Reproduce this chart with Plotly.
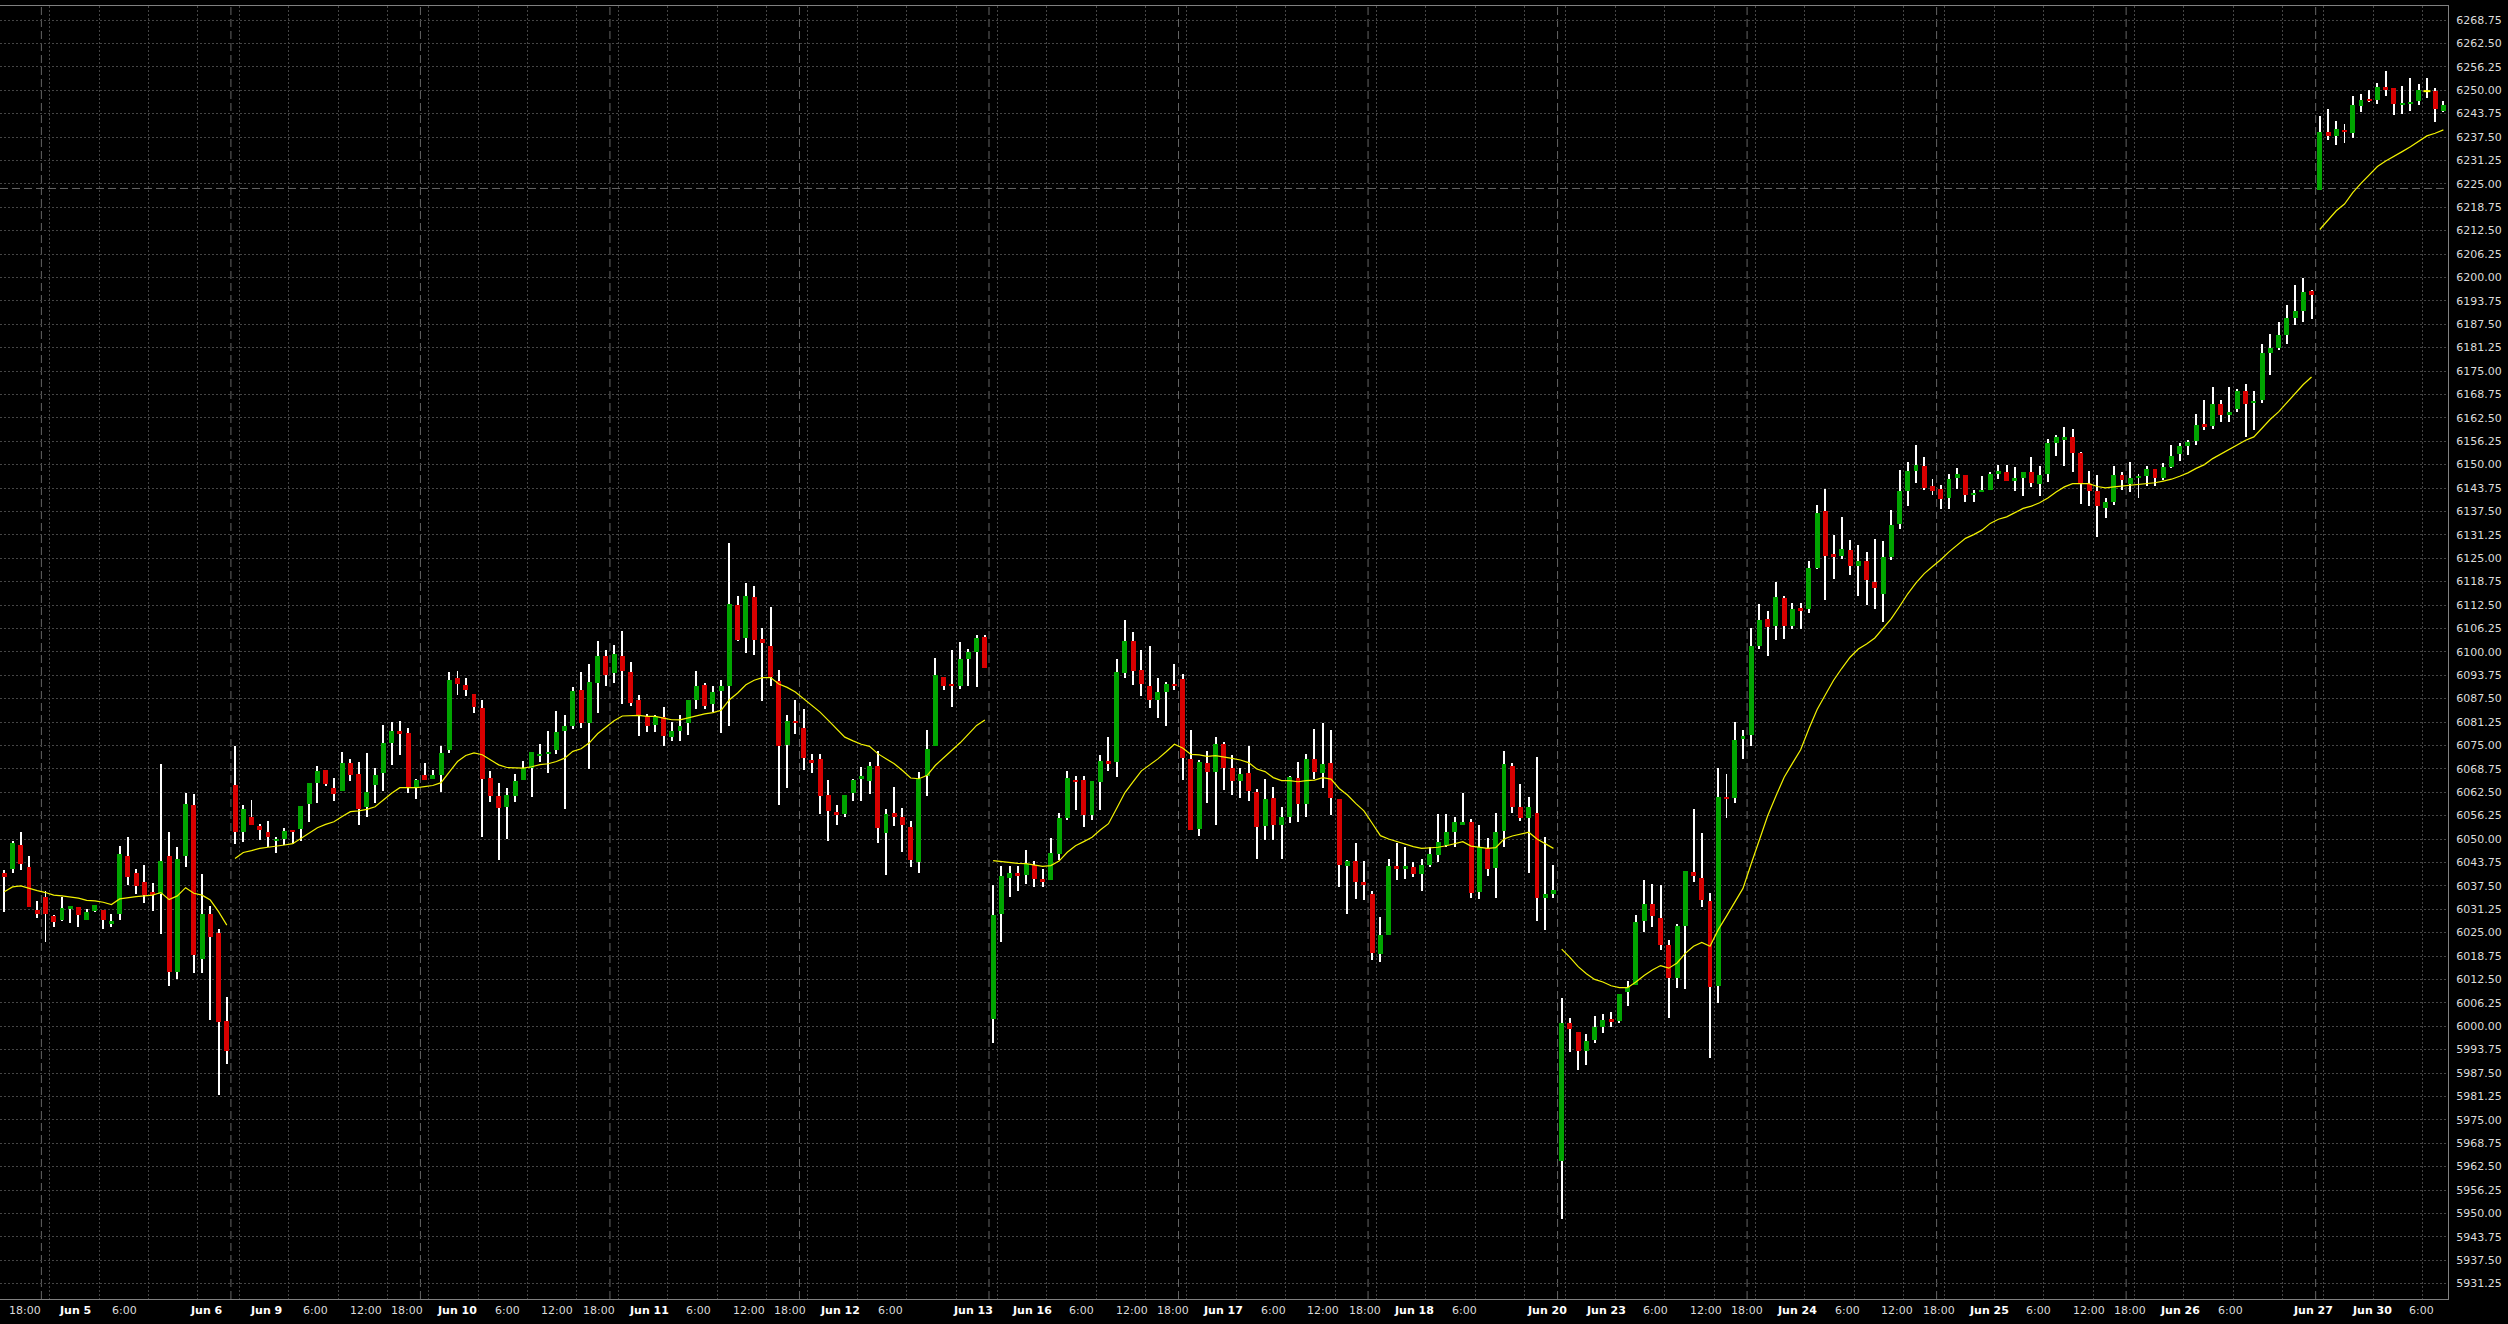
import plotly.graph_objects as go

# ---------------------------------------------------------------------------
# hourly candles, bar 0 = first bar on screen (Jun 4 afternoon)
# ---------------------------------------------------------------------------

open_ = [
    6041.0, 6042.0, 6048.5, 6042.5, 6031.0, 6034.5, 6029.5, 6028.5, 6031.5, 6031.75,
    6028.5, 6030.75, 6031.0, 6027.5, 6030.0, 6045.5, 6041.0, 6038.5, 6035.75, 6035.25,
    6045.5, 6014.5, 6045.5, 6059.0, 6018.0, 6030.0, 6025.0, 6001.5, 6064.5, 6052.0,
    6056.0, 6053.5, 6051.75, 6049.5, 6050.0, 6052.5, 6052.75, 6059.25, 6065.0, 6068.5,
    6063.75, 6062.75, 6070.25, 6067.25, 6058.5, 6064.5, 6067.5, 6075.75, 6078.75, 6078.25,
    6063.75, 6067.0, 6066.0, 6067.0, 6073.75, 6093.0, 6091.25, 6088.75, 6085.0, 6066.25,
    6061.5, 6058.5, 6061.5, 6065.75, 6069.0, 6072.25, 6072.75, 6073.75, 6078.75, 6080.25,
    6089.75, 6081.0, 6091.75, 6098.75, 6094.25, 6099.0, 6094.5, 6087.25, 6082.75, 6080.5,
    6082.5, 6077.25, 6078.75, 6081.0, 6087.0, 6091.25, 6086.0, 6089.5, 6090.75, 6112.5,
    6103.75, 6114.75, 6103.5, 6101.5, 6092.25, 6075.0, 6081.5, 6079.75, 6071.0, 6071.25,
    6061.75, 6057.25, 6056.75, 6062.25, 6066.25, 6065.5, 6069.5, 6051.5, 6057.0, 6056.0,
    6053.25, 6043.75, 6066.75, 6074.75, 6093.25, 6091.5, 6091.0, 6098.0, 6100.0, 6104.0,
    6002.0, 6030.0, 6039.5, 6041.0, 6040.5, 6043.0, 6039.25, 6039.0, 6046.0, 6055.5,
    6065.75, 6065.75, 6056.5, 6065.25, 6070.75, 6070.5, 6094.25, 6103.0, 6095.25, 6091.0,
    6087.0, 6089.25, 6091.5, 6092.75, 6071.5, 6052.75, 6070.25, 6068.0, 6075.25, 6069.0,
    6065.5, 6067.5, 6062.5, 6053.5, 6061.0, 6053.75, 6055.75, 6066.25, 6059.25, 6071.5,
    6067.5, 6070.25, 6060.75, 6042.75, 6044.0, 6038.5, 6035.25, 6019.25, 6024.25, 6042.75,
    6042.0, 6042.5, 6040.75, 6043.0, 6045.75, 6048.5, 6051.75, 6054.0, 6054.5, 6035.75,
    6047.5, 6042.25, 6052.25, 6069.5, 6058.5, 6055.5, 6057.0, 6034.25, 6035.25, 5964.0,
    6000.75, 5998.5, 5993.5, 5996.25, 5999.75, 6002.0, 6001.5, 6009.25, 6011.0, 6028.0,
    6032.75, 6029.0, 6021.75, 6012.75, 6026.75, 6041.25, 6039.5, 6033.5, 6010.75, 6061.25,
    6061.0, 6076.75, 6077.75, 6101.5, 6108.75, 6107.0, 6114.5, 6107.0, 6111.75, 6111.5,
    6122.5, 6137.5, 6126.0, 6125.5, 6127.25, 6123.0, 6124.25, 6118.75, 6115.5, 6125.25,
    6134.25, 6143.0, 6148.25, 6149.75, 6144.25, 6143.5, 6141.0, 6146.5, 6147.25, 6142.0,
    6142.75, 6143.25, 6147.75, 6148.0, 6145.5, 6146.5, 6148.0, 6144.75, 6147.5, 6155.75,
    6156.75, 6157.25, 6153.0, 6144.75, 6143.0, 6138.5, 6140.0, 6147.25, 6144.75, 6146.5,
    6147.0, 6148.75, 6146.5, 6149.25, 6152.75, 6155.0, 6156.25, 6160.75, 6160.25, 6166.25,
    6163.25, 6164.75, 6169.75, 6166.5, 6167.25, 6179.75, 6181.25, 6184.75, 6189.25, 6191.0,
    6196.25, 6223.25, 6238.75, 6237.75, 6239.5, 6238.5, 6245.75, 6247.75, 6247.5, 6250.75,
    6250.5, 6246.25, 6246.5, 6247.0, 6249.75, 6249.75, 6244.5,
]

high_ = [
    6041.75, 6049.5, 6052.0, 6045.5, 6033.5, 6036.0, 6029.75, 6034.5, 6032.0, 6031.75,
    6031.25, 6032.5, 6031.0, 6030.0, 6048.25, 6050.5, 6042.0, 6043.0, 6038.25, 6070.0,
    6051.75, 6048.0, 6062.25, 6062.0, 6040.75, 6032.0, 6026.0, 6007.75, 6074.75, 6059.0,
    6060.5, 6054.0, 6054.75, 6050.5, 6053.0, 6052.5, 6058.75, 6065.0, 6069.5, 6068.5,
    6066.25, 6073.25, 6071.5, 6070.5, 6073.0, 6069.0, 6080.5, 6081.25, 6081.5, 6079.75,
    6066.0, 6070.25, 6068.5, 6074.75, 6094.5, 6095.0, 6093.0, 6088.75, 6087.0, 6068.25,
    6065.0, 6063.5, 6067.25, 6070.75, 6073.25, 6075.5, 6078.75, 6084.25, 6083.0, 6090.5,
    6094.5, 6096.75, 6103.0, 6100.5, 6101.75, 6105.5, 6097.25, 6088.5, 6083.5, 6083.0,
    6085.25, 6081.25, 6083.0, 6087.25, 6094.75, 6091.75, 6090.75, 6092.5, 6129.0, 6115.0,
    6118.5, 6117.5, 6106.25, 6112.0, 6095.25, 6083.25, 6087.0, 6084.75, 6072.75, 6072.75,
    6065.75, 6059.0, 6061.75, 6066.0, 6069.25, 6070.5, 6073.5, 6058.0, 6064.0, 6058.25,
    6054.75, 6068.0, 6079.0, 6098.25, 6093.25, 6100.5, 6102.5, 6100.75, 6104.5, 6104.5,
    6037.75, 6042.75, 6042.75, 6042.75, 6047.0, 6044.0, 6042.0, 6050.25, 6057.0, 6068.25,
    6066.75, 6066.75, 6065.5, 6072.5, 6077.25, 6098.0, 6108.5, 6105.25, 6100.5, 6101.5,
    6093.0, 6092.0, 6096.75, 6094.0, 6079.25, 6071.0, 6073.5, 6077.25, 6076.0, 6072.5,
    6069.0, 6074.75, 6063.25, 6066.0, 6064.0, 6058.5, 6066.75, 6070.5, 6072.75, 6079.5,
    6081.0, 6079.25, 6060.75, 6044.5, 6049.0, 6044.25, 6036.0, 6029.25, 6044.75, 6049.0,
    6048.0, 6043.75, 6044.75, 6047.75, 6056.75, 6056.75, 6056.0, 6062.25, 6055.25, 6053.75,
    6050.25, 6057.0, 6073.5, 6070.25, 6064.75, 6061.25, 6072.0, 6050.5, 6043.0, 6007.5,
    6002.25, 5998.5, 5998.0, 6002.75, 6003.25, 6003.75, 6008.5, 6012.0, 6029.75, 6039.0,
    6038.0, 6037.75, 6023.0, 6027.25, 6041.5, 6058.0, 6051.5, 6035.5, 6069.0, 6067.25,
    6081.25, 6079.0, 6106.25, 6112.75, 6111.0, 6118.75, 6115.0, 6113.0, 6113.0, 6124.25,
    6139.25, 6143.5, 6131.25, 6136.0, 6129.75, 6128.5, 6126.75, 6130.25, 6129.5, 6138.0,
    6148.5, 6150.75, 6155.25, 6152.0, 6146.25, 6144.5, 6147.5, 6149.0, 6147.25, 6143.25,
    6147.0, 6148.0, 6150.0, 6150.0, 6149.25, 6148.0, 6152.0, 6149.5, 6156.75, 6158.0,
    6160.0, 6159.5, 6153.5, 6148.25, 6147.25, 6141.0, 6149.75, 6148.0, 6150.75, 6147.5,
    6149.75, 6148.75, 6150.5, 6155.25, 6155.75, 6156.5, 6163.5, 6167.25, 6170.75, 6167.25,
    6170.75, 6170.25, 6171.5, 6169.75, 6182.25, 6185.0, 6188.0, 6192.5, 6198.0, 6199.75,
    6196.75, 6243.0, 6245.0, 6241.75, 6241.0, 6248.5, 6249.0, 6250.0, 6252.0, 6255.0,
    6250.5, 6251.0, 6253.25, 6251.75, 6253.25, 6250.5, 6247.0,
]

low_ = [
    6030.5, 6041.0, 6041.75, 6031.75, 6029.0, 6022.5, 6026.5, 6028.0, 6027.5, 6026.5,
    6028.5, 6030.5, 6026.0, 6026.5, 6028.5, 6037.75, 6035.25, 6033.0, 6030.75, 6024.75,
    6010.75, 6012.5, 6042.5, 6014.25, 6014.25, 6001.75, 5981.5, 5990.0, 6048.75, 6049.25,
    6053.75, 6049.75, 6047.75, 6046.25, 6048.5, 6048.75, 6049.5, 6054.5, 6059.5, 6064.25,
    6060.25, 6062.75, 6065.5, 6053.75, 6056.0, 6059.5, 6062.75, 6069.75, 6072.5, 6062.25,
    6060.75, 6065.75, 6066.0, 6062.5, 6073.0, 6088.5, 6088.25, 6083.75, 6050.5, 6060.0,
    6044.5, 6050.0, 6060.0, 6065.75, 6061.25, 6070.5, 6067.75, 6072.75, 6058.0, 6079.5,
    6079.75, 6068.75, 6083.75, 6090.75, 6091.75, 6086.0, 6085.5, 6077.5, 6078.5, 6078.5,
    6074.75, 6076.25, 6076.25, 6077.75, 6084.75, 6084.75, 6084.0, 6078.25, 6080.25, 6103.0,
    6099.75, 6099.25, 6086.75, 6091.0, 6059.0, 6063.75, 6078.0, 6068.5, 6067.5, 6056.75,
    6049.5, 6053.75, 6056.0, 6060.25, 6060.25, 6062.0, 6049.0, 6040.5, 6053.5, 6046.5,
    6042.5, 6041.0, 6061.5, 6074.75, 6089.75, 6085.25, 6090.0, 6090.75, 6090.5, 6095.75,
    5995.5, 6022.5, 6034.5, 6036.0, 6038.0, 6037.25, 6037.25, 6039.0, 6044.5, 6055.0,
    6057.75, 6053.25, 6055.0, 6057.75, 6068.25, 6066.5, 6093.0, 6091.25, 6088.25, 6085.0,
    6082.25, 6080.25, 6089.75, 6065.75, 6052.5, 6050.75, 6059.5, 6053.75, 6063.0, 6061.75,
    6061.0, 6060.25, 6044.75, 6049.75, 6049.75, 6044.75, 6054.25, 6054.5, 6055.75, 6066.0,
    6063.75, 6056.5, 6037.25, 6030.0, 6034.0, 6033.75, 6017.75, 6017.25, 6024.25, 6039.0,
    6039.25, 6039.75, 6036.0, 6042.5, 6043.75, 6048.0, 6047.75, 6054.0, 6034.25, 6034.0,
    6040.25, 6034.25, 6047.75, 6057.0, 6054.75, 6041.0, 6028.0, 6025.75, 6034.25, 5948.5,
    5993.0, 5988.25, 5989.75, 5995.5, 5998.25, 5999.75, 6000.75, 6005.5, 6011.0, 6025.25,
    6026.5, 6020.25, 6002.25, 6010.25, 6010.0, 6038.5, 6031.75, 5991.5, 6006.25, 6055.5,
    6059.5, 6071.5, 6074.75, 6100.75, 6098.75, 6103.25, 6103.5, 6106.0, 6106.0, 6110.5,
    6122.0, 6113.75, 6119.5, 6124.75, 6120.5, 6115.0, 6112.5, 6111.5, 6108.0, 6124.5,
    6132.75, 6139.0, 6145.0, 6143.25, 6142.0, 6138.25, 6138.25, 6143.5, 6140.0, 6140.0,
    6142.75, 6143.25, 6146.25, 6145.5, 6143.0, 6141.5, 6144.0, 6141.5, 6145.25, 6152.25,
    6149.5, 6148.0, 6139.5, 6139.0, 6130.75, 6135.75, 6139.25, 6143.25, 6142.75, 6141.0,
    6144.25, 6144.25, 6146.0, 6149.0, 6151.0, 6152.5, 6155.25, 6159.25, 6159.5, 6161.5,
    6161.25, 6164.0, 6157.5, 6159.25, 6166.5, 6174.0, 6180.5, 6182.25, 6187.25, 6188.0,
    6189.0, 6223.25, 6236.75, 6235.25, 6236.0, 6237.25, 6244.25, 6246.75, 6246.25, 6248.5,
    6243.25, 6243.75, 6244.5, 6246.0, 6248.0, 6241.5, 6244.25,
]

close_ = [
    6039.75, 6049.0, 6043.25, 6031.75, 6030.0, 6030.0, 6027.75, 6031.5, 6032.0, 6029.75,
    6030.5, 6032.25, 6028.5, 6028.0, 6046.0, 6039.75, 6037.5, 6035.0, 6035.25, 6044.0,
    6014.5, 6044.75, 6059.25, 6019.0, 6030.0, 6023.75, 6001.0, 5993.5, 6052.0, 6058.0,
    6053.75, 6052.5, 6050.5, 6050.0, 6052.25, 6052.0, 6058.75, 6065.0, 6068.25, 6064.75,
    6062.0, 6070.25, 6067.0, 6058.0, 6062.5, 6067.0, 6075.75, 6078.75, 6078.25, 6063.5,
    6065.75, 6065.75, 6067.0, 6073.0, 6092.5, 6091.5, 6089.75, 6085.25, 6066.0, 6061.5,
    6058.25, 6061.75, 6065.5, 6069.0, 6073.25, 6072.75, 6073.25, 6078.5, 6080.25, 6089.5,
    6081.0, 6092.0, 6099.0, 6093.75, 6099.5, 6095.0, 6086.25, 6083.25, 6080.25, 6082.5,
    6077.5, 6078.75, 6080.25, 6087.25, 6091.0, 6085.5, 6089.25, 6091.0, 6112.75, 6103.25,
    6115.0, 6103.25, 6102.25, 6093.25, 6074.75, 6081.5, 6081.0, 6071.75, 6070.5, 6061.5,
    6057.5, 6056.5, 6061.75, 6065.75, 6066.75, 6069.5, 6053.0, 6056.75, 6055.75, 6053.75,
    6044.5, 6066.0, 6074.0, 6093.75, 6091.0, 6091.0, 6098.0, 6100.0, 6103.75, 6095.75,
    6029.75, 6040.0, 6041.0, 6040.0, 6043.25, 6039.25, 6038.75, 6046.25, 6055.5, 6066.25,
    6065.25, 6056.5, 6065.5, 6070.75, 6070.25, 6094.5, 6103.0, 6095.0, 6091.5, 6087.0,
    6089.25, 6091.5, 6091.0, 6071.75, 6052.5, 6070.5, 6068.0, 6075.5, 6069.0, 6065.5,
    6067.25, 6062.75, 6053.25, 6060.75, 6053.75, 6056.0, 6066.5, 6059.25, 6071.5, 6068.0,
    6070.0, 6061.0, 6043.0, 6044.0, 6038.5, 6037.75, 6019.5, 6024.25, 6042.75, 6042.25,
    6042.75, 6040.75, 6043.0, 6046.0, 6049.25, 6051.75, 6054.5, 6054.5, 6035.5, 6048.0,
    6042.0, 6052.0, 6070.0, 6058.5, 6055.5, 6058.5, 6034.25, 6035.25, 6036.25, 6000.75,
    5999.25, 5993.5, 5996.0, 5999.75, 6001.75, 6001.25, 6008.5, 6010.5, 6027.75, 6032.75,
    6029.5, 6021.75, 6012.75, 6026.75, 6041.5, 6040.0, 6033.75, 6010.5, 6061.25, 6060.75,
    6076.5, 6077.5, 6101.5, 6108.5, 6106.75, 6114.75, 6107.0, 6111.5, 6111.0, 6122.5,
    6137.0, 6125.5, 6125.5, 6127.5, 6123.0, 6124.25, 6119.25, 6117.0, 6125.25, 6133.75,
    6143.0, 6148.25, 6150.0, 6143.75, 6143.0, 6140.75, 6146.25, 6147.5, 6142.0, 6142.5,
    6143.25, 6147.5, 6148.25, 6145.5, 6146.5, 6148.0, 6145.0, 6147.25, 6155.75, 6157.25,
    6157.25, 6153.0, 6144.75, 6143.0, 6139.0, 6140.0, 6147.25, 6146.0, 6146.5, 6147.0,
    6148.75, 6146.5, 6149.25, 6152.25, 6155.0, 6156.0, 6160.5, 6160.0, 6166.25, 6163.25,
    6164.0, 6169.75, 6166.25, 6167.0, 6179.75, 6181.25, 6184.5, 6189.25, 6191.0, 6196.0,
    6195.25, 6238.75, 6237.75, 6239.75, 6238.75, 6246.0, 6247.5, 6247.25, 6250.75, 6250.25,
    6246.25, 6246.5, 6246.75, 6250.0, 6249.75, 6245.0, 6246.0,
]

# yellow moving average as drawn on the chart (restarts after each data gap)
ma = [
    6035.9, 6037.2, 6037.5, 6036.8, 6036.2, 6035.7, 6035.0, 6034.8, 6034.5, 6034.2,
    6033.6, 6033.5, 6033.1, 6032.5, 6034.0, 6034.4, 6034.6, 6034.8, 6035.0, 6035.7,
    6033.8, 6034.8, 6037.0, 6035.5, 6035.0, 6033.7, 6030.6, 6027.0, 6044.8, 6046.4,
    6046.9, 6047.5, 6047.8, 6048.0, 6048.4, 6048.75, 6050.2, 6051.5, 6053.0, 6053.9,
    6054.6, 6056.0, 6057.3, 6057.5, 6057.9, 6058.6, 6060.4, 6062.2, 6063.7, 6063.7,
    6063.7, 6064.0, 6064.3, 6065.05, 6068.0, 6070.7, 6072.3, 6073.0, 6072.5, 6071.2,
    6069.8, 6069.1, 6068.95, 6068.95, 6069.3, 6069.85, 6070.1, 6070.7, 6071.6, 6073.4,
    6074.1, 6075.7, 6078.1, 6079.9, 6081.6, 6082.85, 6083.0, 6083.0, 6082.75, 6082.75,
    6082.3, 6081.85, 6081.8, 6082.4, 6083.0, 6083.4, 6083.75, 6084.4, 6087.2, 6089.0,
    6091.2, 6092.4, 6093.1, 6093.1, 6091.4, 6090.5, 6089.25, 6087.5, 6085.9, 6083.9,
    6081.7, 6079.5, 6077.2, 6076.2, 6075.3, 6074.75, 6072.8, 6071.45, 6070.1, 6068.3,
    6066.3, 6066.1, 6067.0, 6069.7, 6071.8, 6073.7, 6075.7, 6078.1, 6080.35, 6081.8,
    6044.2, 6043.95, 6043.8, 6043.5, 6043.4, 6043.05, 6042.7, 6042.9, 6044.1, 6046.45,
    6048.2, 6049.3, 6050.45, 6052.4, 6054.1, 6058.2, 6062.4, 6065.3, 6068.2, 6069.8,
    6071.4, 6073.3, 6075.3, 6074.3, 6072.6, 6072.45, 6072.05, 6072.25, 6072.0, 6071.55,
    6071.1, 6070.4, 6068.7, 6068.0, 6066.4, 6065.6, 6065.6, 6065.3, 6065.6, 6065.75,
    6066.4, 6066.0, 6063.5, 6061.75, 6059.5, 6057.5, 6054.2, 6050.9, 6050.0, 6049.3,
    6048.6, 6047.95, 6047.5, 6047.6, 6047.8, 6048.2, 6048.7, 6049.3, 6048.1, 6047.8,
    6047.5, 6047.7, 6050.0, 6050.8, 6051.2, 6051.8, 6050.0, 6048.85, 6047.5, 6020.6,
    6018.4, 6015.9, 6014.0, 6012.5, 6011.8, 6010.8, 6010.3, 6010.3, 6011.8, 6013.55,
    6015.0, 6016.2, 6015.5, 6016.9, 6019.45, 6021.35, 6022.4, 6021.35, 6025.8, 6029.4,
    6033.1, 6036.8, 6043.4, 6050.0, 6056.2, 6061.5, 6066.5, 6070.2, 6073.85, 6079.45,
    6084.6, 6088.55, 6092.4, 6095.6, 6098.55, 6100.75, 6102.1, 6103.7, 6106.2, 6108.85,
    6112.1, 6115.5, 6118.4, 6120.9, 6122.8, 6124.6, 6126.7, 6128.4, 6130.3, 6131.3,
    6132.5, 6134.3, 6135.4, 6136.05, 6137.2, 6138.3, 6138.9, 6139.8, 6141.1, 6142.7,
    6144.05, 6144.9, 6144.9, 6144.9, 6144.15, 6143.8, 6144.05, 6144.25, 6144.5, 6144.8,
    6145.0, 6145.15, 6145.6, 6146.1, 6146.9, 6147.8, 6149.0, 6150.0, 6151.6, 6152.8,
    6154.0, 6155.4, 6156.5, 6157.4, 6159.8, 6162.1, 6164.1, 6166.6, 6169.0, 6171.4,
    6173.4, 6212.8, 6215.3, 6217.8, 6219.6, 6222.65, 6225.1, 6227.35, 6229.6, 6231.1,
    6232.25, 6233.6, 6234.9, 6236.25, 6237.8, 6238.5, 6239.4,
]

# first bar of each block of data (the indicator line breaks there)
segment_starts = [0, 28, 120, 189, 281]

# session separators (between the 16:00 and 18:00 bars)
day_breaks = [4.5, 27.5, 50.5, 73.5, 96.5, 119.5, 142.5, 165.5, 188.5,
              211.5, 234.5, 257.5, 280.5]

# time axis grid positions and their labels ("" = grid line without a label)
tick_pos = [5.5, 11.5, 17.5, 23.5, 28.5, 34.5, 40.5, 46.5, 51.5, 57.5,
            63.5, 69.5, 74.5, 80.5, 86.5, 92.5, 97.5, 103.5, 109.5, 115.5,
            120.5, 126.5, 132.5, 138.5, 143.5, 149.5, 155.5, 161.5, 166.5, 172.5,
            178.5, 184.5, 189.5, 195.5, 201.5, 207.5, 212.5, 218.5, 224.5, 230.5,
            235.5, 241.5, 247.5, 253.5, 258.5, 264.5, 270.5, 276.5, 281.5, 287.5,
            293.5]
tick_text = ["18:00", "Jun 5", "6:00", "", "Jun 6", "Jun 9", "6:00", "12:00", "18:00", "Jun 10",
             "6:00", "12:00", "18:00", "Jun 11", "6:00", "12:00", "18:00", "Jun 12", "6:00", "",
             "Jun 13", "Jun 16", "6:00", "12:00", "18:00", "Jun 17", "6:00", "12:00", "18:00", "Jun 18",
             "6:00", "", "Jun 20", "Jun 23", "6:00", "12:00", "18:00", "Jun 24", "6:00", "12:00",
             "18:00", "Jun 25", "6:00", "12:00", "18:00", "Jun 26", "6:00", "", "Jun 27", "Jun 30",
             "6:00"]

price_line = 6223.75

###################################################################################################

UP = '#00a400'
DOWN = '#d80000'
DOJI = '#ffff00'
GRID = '#454545'
SEP = '#646464'
FONT = 'DejaVu Sans'

n = len(close_)
idx = list(range(n))

body_base = [min(o, c) for o, c in zip(open_, close_)]
body_size = [abs(c - o) for o, c in zip(open_, close_)]
body_color = [UP if c > o else DOWN if c < o else DOJI for o, c in zip(open_, close_)]
doji = [i for i in idx if open_[i] == close_[i]]

ma_x, ma_y = [], []
bounds = segment_starts + [n]
for a, b in zip(bounds[:-1], bounds[1:]):
    ma_x += idx[a:b] + [None]
    ma_y += ma[a:b] + [None]

fig = go.Figure()
# wicks are thin bars so that the bodies (same layer, drawn later) cover them
fig.add_trace(go.Bar(x=idx, y=[h - l for h, l in zip(high_, low_)], base=low_, width=0.12,
                     marker=dict(color='white', line=dict(width=0))))
fig.add_trace(go.Bar(x=idx, y=body_size, base=body_base, width=0.6,
                     marker=dict(color=body_color, line=dict(width=0))))
fig.add_trace(go.Scatter(x=doji, y=[close_[i] for i in doji], mode='markers',
                         marker=dict(symbol='line-ew', size=5,
                                     line=dict(color=DOJI, width=2))))
fig.add_trace(go.Scatter(x=ma_x, y=ma_y, mode='lines',
                         line=dict(color='#f2f200', width=1.2)))

for x in day_breaks:
    fig.add_vline(x=x, line=dict(color=SEP, width=1, dash='8px,4px'), layer='below')
fig.add_hline(y=price_line, line=dict(color=SEP, width=1, dash='8px,4px'), layer='below')

# labels sit a little left of their grid line (more so right after a data gap)
for t, txt in zip(tick_pos, tick_text):
    if not txt:
        continue
    pos = t * 1.01 - 3.09
    if int(t - 0.5) in segment_starts:
        pos -= 1.1
    is_date = txt.startswith('Jun')
    fig.add_annotation(x=pos, y=0, xref='x', yref='paper', yanchor='top', yshift=-3,
                       showarrow=False,
                       text='<b>%s</b>' % txt if is_date else txt,
                       font=dict(family=FONT, size=11,
                                 color='#ffffff' if is_date else '#dcdcdc'))

fig.update_layout(width=2508, height=1324,
                  margin=dict(l=0, r=60, t=6, b=25),
                  paper_bgcolor='black', plot_bgcolor='black',
                  showlegend=False, hovermode=False, barmode='overlay', bargap=0)
fig.update_xaxes(range=[-0.522, 296.56], tickmode='array', tickvals=tick_pos,
                 showticklabels=False, ticks='', showgrid=True, gridcolor=GRID,
                 griddash='2px,2px', gridwidth=1, zeroline=False,
                 showline=True, mirror=True, linecolor='#808080', linewidth=1)
fig.update_yaxes(side='right', range=[5927.14, 6272.49], tick0=5931.25, dtick=6.25,
                 tickformat='.2f', ticks='', ticklabelstandoff=5,
                 tickfont=dict(family=FONT, size=11, color='#dcdcdc'),
                 showgrid=True, gridcolor=GRID, griddash='2px,2px', gridwidth=1,
                 zeroline=False, showline=True, mirror=True,
                 linecolor='#808080', linewidth=1)

fig.write_html("out.html", config={'displayModeBar': False},
               post_script="document.body.style.margin='0';")
